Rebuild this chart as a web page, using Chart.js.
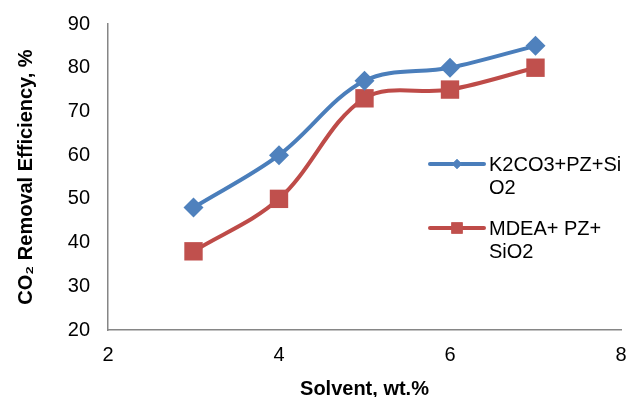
<!DOCTYPE html>
<html>
<head>
<meta charset="utf-8">
<script src="https://cdn.jsdelivr.net/npm/chart.js@4"></script>
<style>
  html, body { margin: 0; padding: 0; background: #fff; }
  #wrap { width: 642px; height: 397px; }
</style>
</head>
<body>
<div id="wrap"><canvas id="co2-chart" width="642" height="397"></canvas></div>
<script>
var solvent = [3, 4, 5, 6, 7];
var k2co3Values = [48, 60, 77, 80, 85];
var mdeaValues = [38, 50, 73, 75, 80];
var xTicks = [2, 4, 6, 8];
var yTicks = [20, 30, 40, 50, 60, 70, 80, 90];
var seriesNames = [['K2CO3+PZ+Si', 'O2'], ['MDEA+ PZ+', 'SiO2']];

function toPoints(xs, ys) {
  return xs.map(function (x, i) { return { x: x, y: ys[i] }; });
}

// legend drawn by hand so the names can wrap like the original
var sideLegend = {
  id: 'sideLegend',
  afterDraw: function (chart) {
    var ctx = chart.ctx;
    var rows = [
      { y: 164, color: '#4A7EBB', fill: '#4F81BD', style: 'rectRot', r: 5 },
      { y: 228, color: '#BE4B48', fill: '#C0504D', style: 'rect', r: 8 }
    ];
    ctx.save();
    rows.forEach(function (row, i) {
      ctx.strokeStyle = row.color;
      ctx.lineWidth = 4;
      ctx.lineCap = 'round';
      ctx.beginPath();
      ctx.moveTo(430, row.y);
      ctx.lineTo(484, row.y);
      ctx.stroke();
      ctx.fillStyle = row.fill;
      Chart.helpers.drawPoint(ctx, { pointStyle: row.style, radius: row.r, borderWidth: 0 }, 457, row.y);
      ctx.fill();
      ctx.fillStyle = '#000';
      ctx.font = '20px "Liberation Sans", Arial, sans-serif';
      ctx.textBaseline = 'middle';
      ctx.textAlign = 'left';
      seriesNames[i].forEach(function (line, j) {
        ctx.fillText(line, 489, row.y + 1 + j * 23);
      });
    });
    ctx.restore();
  }
};

var ctx = document.getElementById('co2-chart').getContext('2d');
var chart = new Chart(ctx, {
  type: 'line',
  data: {
    datasets: [{
      label: seriesNames[0].join(''),
      data: toPoints(solvent, k2co3Values),
      borderColor: '#4A7EBB',
      backgroundColor: '#4F81BD',
      borderWidth: 4,
      tension: 0.35,
      pointStyle: 'rectRot',
      pointRadius: 10,
      pointBorderWidth: 0
    }, {
      label: seriesNames[1].join(''),
      data: toPoints(solvent, mdeaValues),
      borderColor: '#BE4B48',
      backgroundColor: '#C0504D',
      borderWidth: 4,
      tension: 0.35,
      pointStyle: 'rect',
      pointRadius: 13,
      pointBorderWidth: 0
    }]
  },
  options: {
    responsive: false,
    animation: false,
    layout: { padding: { top: 22, right: 21, left: 0, bottom: 0 } },
    plugins: {
      legend: { display: false },
      tooltip: { enabled: false }
    },
    scales: {
      x: {
        type: 'linear',
        min: 2,
        max: 8,
        afterBuildTicks: function (scale) {
          scale.ticks = xTicks.map(function (v) { return { value: v }; });
        },
        afterFit: function (scale) { scale.height = 67; },
        grid: { display: false, drawTicks: true, tickLength: 6, tickColor: '#868686' },
        border: { color: '#868686', width: 1.5 },
        ticks: { color: '#000', font: { family: '"Liberation Sans", Arial', size: 20 }, padding: 7 },
        title: {
          display: true,
          text: 'Solvent, wt.%',
          color: '#000',
          font: { family: '"Liberation Sans", Arial', size: 20, weight: 'bold' },
          padding: { top: 9, bottom: -4 }
        }
      },
      y: {
        min: 20,
        max: 90,
        afterBuildTicks: function (scale) {
          scale.ticks = yTicks.map(function (v) { return { value: v }; });
        },
        afterFit: function (scale) { scale.width = 108; },
        grid: { display: false, drawTicks: true, tickLength: 6, tickColor: '#868686' },
        border: { color: '#868686', width: 1.5 },
        ticks: { color: '#000', font: { family: '"Liberation Sans", Arial', size: 20 }, padding: 12 },
        title: {
          display: true,
          text: 'CO\u2082 Removal Efficiency, %',
          color: '#000',
          font: { family: '"Liberation Sans", Arial', size: 20, weight: 'bold' },
          padding: { top: 14, bottom: 0 }
        }
      }
    }
  },
  plugins: [sideLegend]
});
</script>
</body>
</html>
